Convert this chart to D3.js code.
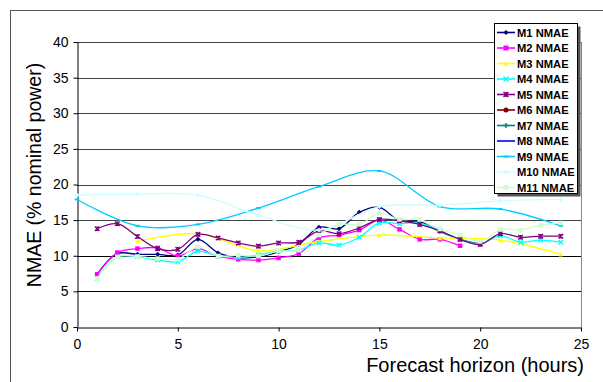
<!DOCTYPE html>
<html>
<head>
<meta charset="utf-8">
<script src="https://cdn.jsdelivr.net/npm/d3@7"></script>
<style>
  body { margin: 0; background: #fff; }
  svg { display: block; font-family: Arial, "Liberation Sans", sans-serif; }
</style>
</head>
<body>
<div id="chart"></div>
<script>
// hours for the hourly series and for the 3-hourly ones
const hoursHourly = d3.range(1, 25)
const hours3h = [0, 3, 6, 9, 12, 15, 18, 21, 24]
const hours3hFrom3 = [3, 6, 9, 12, 15, 18, 21, 24]

const m1 = [7.4, 10.3, 10.2, 10.2, 10.1, 12.3, 10.4, 9.75, 9.85, 10.55, 11.6, 14.0, 13.8, 16.1, 16.8, 14.9, 14.8, 13.4, 12.3, 11.6]
const m2 = [7.4, 10.45, 11.0, 11.1, 9.95, 11.0, 9.95, 9.5, 9.4, 9.7, 10.3, 12.5, 12.9, 13.6, 15.0, 13.7, 12.3, 12.3, 11.4]
const m3 = [12.05, 13.1, 10.7, 12.0, 12.9, 12.5, 12.2, 10.2]
const m4 = [6.8, 9.85, 9.85, 9.4, 9.15, 10.65, 9.95, 9.75, 10.1, 10.65, 10.8, 11.8, 11.5, 12.6, 14.6, 14.5, 14.6, 13.5, 12.3, 11.7, 12.8, 11.9, 12.2, 11.9]
const m5 = [13.8, 14.5, 12.7, 11.0, 10.9, 13.0, 12.5, 11.8, 11.35, 11.8, 11.9, 13.5, 13.1, 13.9, 15.1, 14.9, 14.4, 13.5, 12.3, 11.6, 13.1, 12.6, 12.75, 12.75]
const m6 = []
const m7 = []
const m8 = []
const m9 = [17.9, 14.2, 14.4, 16.7, 19.7, 21.9, 16.9, 16.55, 14.2]
const m10 = [18.5, 18.65, 18.5, 15.7, 13.6, 16.9, 17.1, 17.7, 17.9]
const m11 = [6.8, 9.85, 9.9, 9.6, 9.5, 11.25, 9.95, 10.1, 9.95, 10.65, 10.8, 12.9, 14.4, 14.4, 15.95, 15.1, 15.1, 13.75, 12.9, 12.0, 13.7, 13.6, 14.3, 14.6]

const seriesNames = ["M1 NMAE", "M2 NMAE", "M3 NMAE", "M4 NMAE", "M5 NMAE", "M6 NMAE",
    "M7 NMAE", "M8 NMAE", "M9 NMAE", "M10 NMAE", "M11 NMAE"]

const xTicks = [0, 5, 10, 15, 20, 25]
const yTicks = [0, 5, 10, 15, 20, 25, 30, 35, 40]

const series = [
    { name: seriesNames[0], x: hoursHourly, y: m1, color: "#000080", marker: "diamond" },
    { name: seriesNames[1], x: hoursHourly, y: m2, color: "#ff00ff", marker: "square" },
    { name: seriesNames[2], x: hours3hFrom3, y: m3, color: "#ffff00", marker: "triangle" },
    { name: seriesNames[3], x: hoursHourly, y: m4, color: "#00ffff", marker: "x" },
    { name: seriesNames[4], x: hoursHourly, y: m5, color: "#800080", marker: "star" },
    { name: seriesNames[5], x: hoursHourly, y: m6, color: "#800000", marker: "circle" },
    { name: seriesNames[6], x: hoursHourly, y: m7, color: "#008080", marker: "plus" },
    { name: seriesNames[7], x: hoursHourly, y: m8, color: "#0000ff", marker: "none" },
    { name: seriesNames[8], x: hours3h, y: m9, color: "#00ccff", marker: "dash" },
    { name: seriesNames[9], x: hours3h, y: m10, color: "#ccffff", marker: "diamond" },
    { name: seriesNames[10], x: hoursHourly, y: m11, color: "#ccffcc", marker: "square" }
]

const W = 603, H = 382
const plot = { left: 77, right: 581, top: 42, bottom: 327 }

const svg = d3.select("#chart").append("svg")
    .attr("width", W)
    .attr("height", H)

// outer chart border
svg.append("rect")
    .attr("x", 10.5).attr("y", 10.5)
    .attr("width", W + 10).attr("height", H + 10)
    .attr("fill", "none")
    .attr("stroke", "#555")

const xScale = d3.scaleLinear().domain([0, 25]).range([plot.left, plot.right])
const yScale = d3.scaleLinear().domain([0, 40]).range([plot.bottom, plot.top])

// gridlines
svg.append("g")
    .selectAll("line")
    .data(yTicks.filter(d => d > 0))
    .enter()
    .append("line")
    .attr("x1", plot.left).attr("x2", plot.right)
    .attr("y1", d => Math.round(yScale(d)) + 0.5)
    .attr("y2", d => Math.round(yScale(d)) + 0.5)
    .attr("stroke", d => d >= 15 ? "#444" : "#000")
    .attr("stroke-width", 1)

// right edge of plot area
svg.append("line")
    .attr("x1", plot.right + 0.5).attr("x2", plot.right + 0.5)
    .attr("y1", plot.top).attr("y2", plot.bottom)
    .attr("stroke", "#888")

// axes
const xAxis = svg.append("g")
    .attr("transform", "translate(0," + (plot.bottom + 0.5) + ")")
    .call(d3.axisBottom(xScale).tickValues(xTicks).tickSize(4).tickSizeOuter(0))
const yAxis = svg.append("g")
    .attr("transform", "translate(" + (plot.left + 0.5) + ",0)")
    .call(d3.axisLeft(yScale).tickValues(yTicks).tickSize(4).tickSizeOuter(0))

xAxis.selectAll("path, line").attr("stroke", "#000")
yAxis.selectAll("path, line").attr("stroke", "#000")
xAxis.selectAll("text")
    .attr("font-size", "14px")
    .attr("fill", "#000")
    .attr("dy", "1.05em")
yAxis.selectAll("text")
    .attr("font-size", "14px")
    .attr("fill", "#000")
    .attr("x", -9)

// axis titles
svg.append("text")
    .attr("transform", "translate(41,175) rotate(-90)")
    .attr("text-anchor", "middle")
    .attr("font-size", "19.5px")
    .text("NMAE (% nominal power)")
svg.append("text")
    .attr("x", 584).attr("y", 372)
    .attr("text-anchor", "end")
    .attr("font-size", "20px")
    .text("Forecast horizon (hours)")

// markers
function drawMarker(g, type, color, s) {
    if (type === "diamond") {
        g.append("path").attr("d", `M0,${-s / 2}L${s / 2},0L0,${s / 2}L${-s / 2},0Z`)
            .attr("fill", color)
    } else if (type === "square") {
        g.append("rect").attr("x", -s / 2).attr("y", -s / 2).attr("width", s).attr("height", s)
            .attr("fill", color)
    } else if (type === "triangle") {
        g.append("path").attr("d", `M0,${-s / 2}L${s / 2},${s / 2}L${-s / 2},${s / 2}Z`)
            .attr("fill", color)
    } else if (type === "x") {
        g.append("path").attr("d", `M${-s / 2},${-s / 2}L${s / 2},${s / 2}M${-s / 2},${s / 2}L${s / 2},${-s / 2}`)
            .attr("stroke", color).attr("stroke-width", 1.4)
    } else if (type === "star") {
        g.append("path").attr("d", `M${-s / 2},${-s / 2}L${s / 2},${s / 2}M${-s / 2},${s / 2}L${s / 2},${-s / 2}M0,${-s / 2}L0,${s / 2}`)
            .attr("stroke", color).attr("stroke-width", 1.5)
    } else if (type === "circle") {
        g.append("circle").attr("r", s / 2).attr("fill", color)
    } else if (type === "plus") {
        g.append("path").attr("d", `M${-s / 2},0L${s / 2},0M0,${-s / 2}L0,${s / 2}`)
            .attr("stroke", color).attr("stroke-width", 1.4)
    } else if (type === "dash") {
        g.append("rect").attr("x", -s / 2).attr("y", -1).attr("width", s).attr("height", 2)
            .attr("fill", color)
    }
}

const line = d3.line()
    .x(d => xScale(d[0]))
    .y(d => yScale(d[1]))
    .curve(d3.curveCatmullRom.alpha(0.5))

const linesGroup = svg.append("g")
series.forEach(s => {
    const pts = s.y.map((v, i) => [s.x[i], v])
    if (!pts.length) return
    linesGroup.append("path")
        .datum(pts)
        .attr("d", line)
        .attr("fill", "none")
        .attr("stroke", s.color)
        .attr("stroke-width", 1.3)
    pts.forEach(p => {
        const g = linesGroup.append("g")
            .attr("transform", "translate(" + xScale(p[0]) + "," + yScale(p[1]) + ")")
        drawMarker(g, s.marker, s.color, s.marker === "diamond" ? 5 : 4.5)
    })
})

// legend
const legend = svg.append("g").attr("transform", "translate(494,23)")
legend.append("rect")
    .attr("x", 3.5).attr("y", 3.5).attr("width", 83).attr("height", 170)
    .attr("fill", "#555")
legend.append("rect")
    .attr("x", 0.5).attr("y", 0.5).attr("width", 83).attr("height", 170)
    .attr("fill", "#fff").attr("stroke", "#000")

series.forEach((s, i) => {
    const row = legend.append("g").attr("transform", "translate(0," + (9.5 + i * 15.5) + ")")
    row.append("line")
        .attr("x1", 3).attr("x2", 21).attr("y1", 0).attr("y2", 0)
        .attr("stroke", s.color).attr("stroke-width", 1.6)
    drawMarker(row.append("g").attr("transform", "translate(12,0)"), s.marker, s.color, 5)
    row.append("text")
        .attr("x", 23).attr("y", 4)
        .attr("font-size", "11.2px")
        .attr("font-weight", "bold")
        .text(s.name)
})
</script>
</body>
</html>
